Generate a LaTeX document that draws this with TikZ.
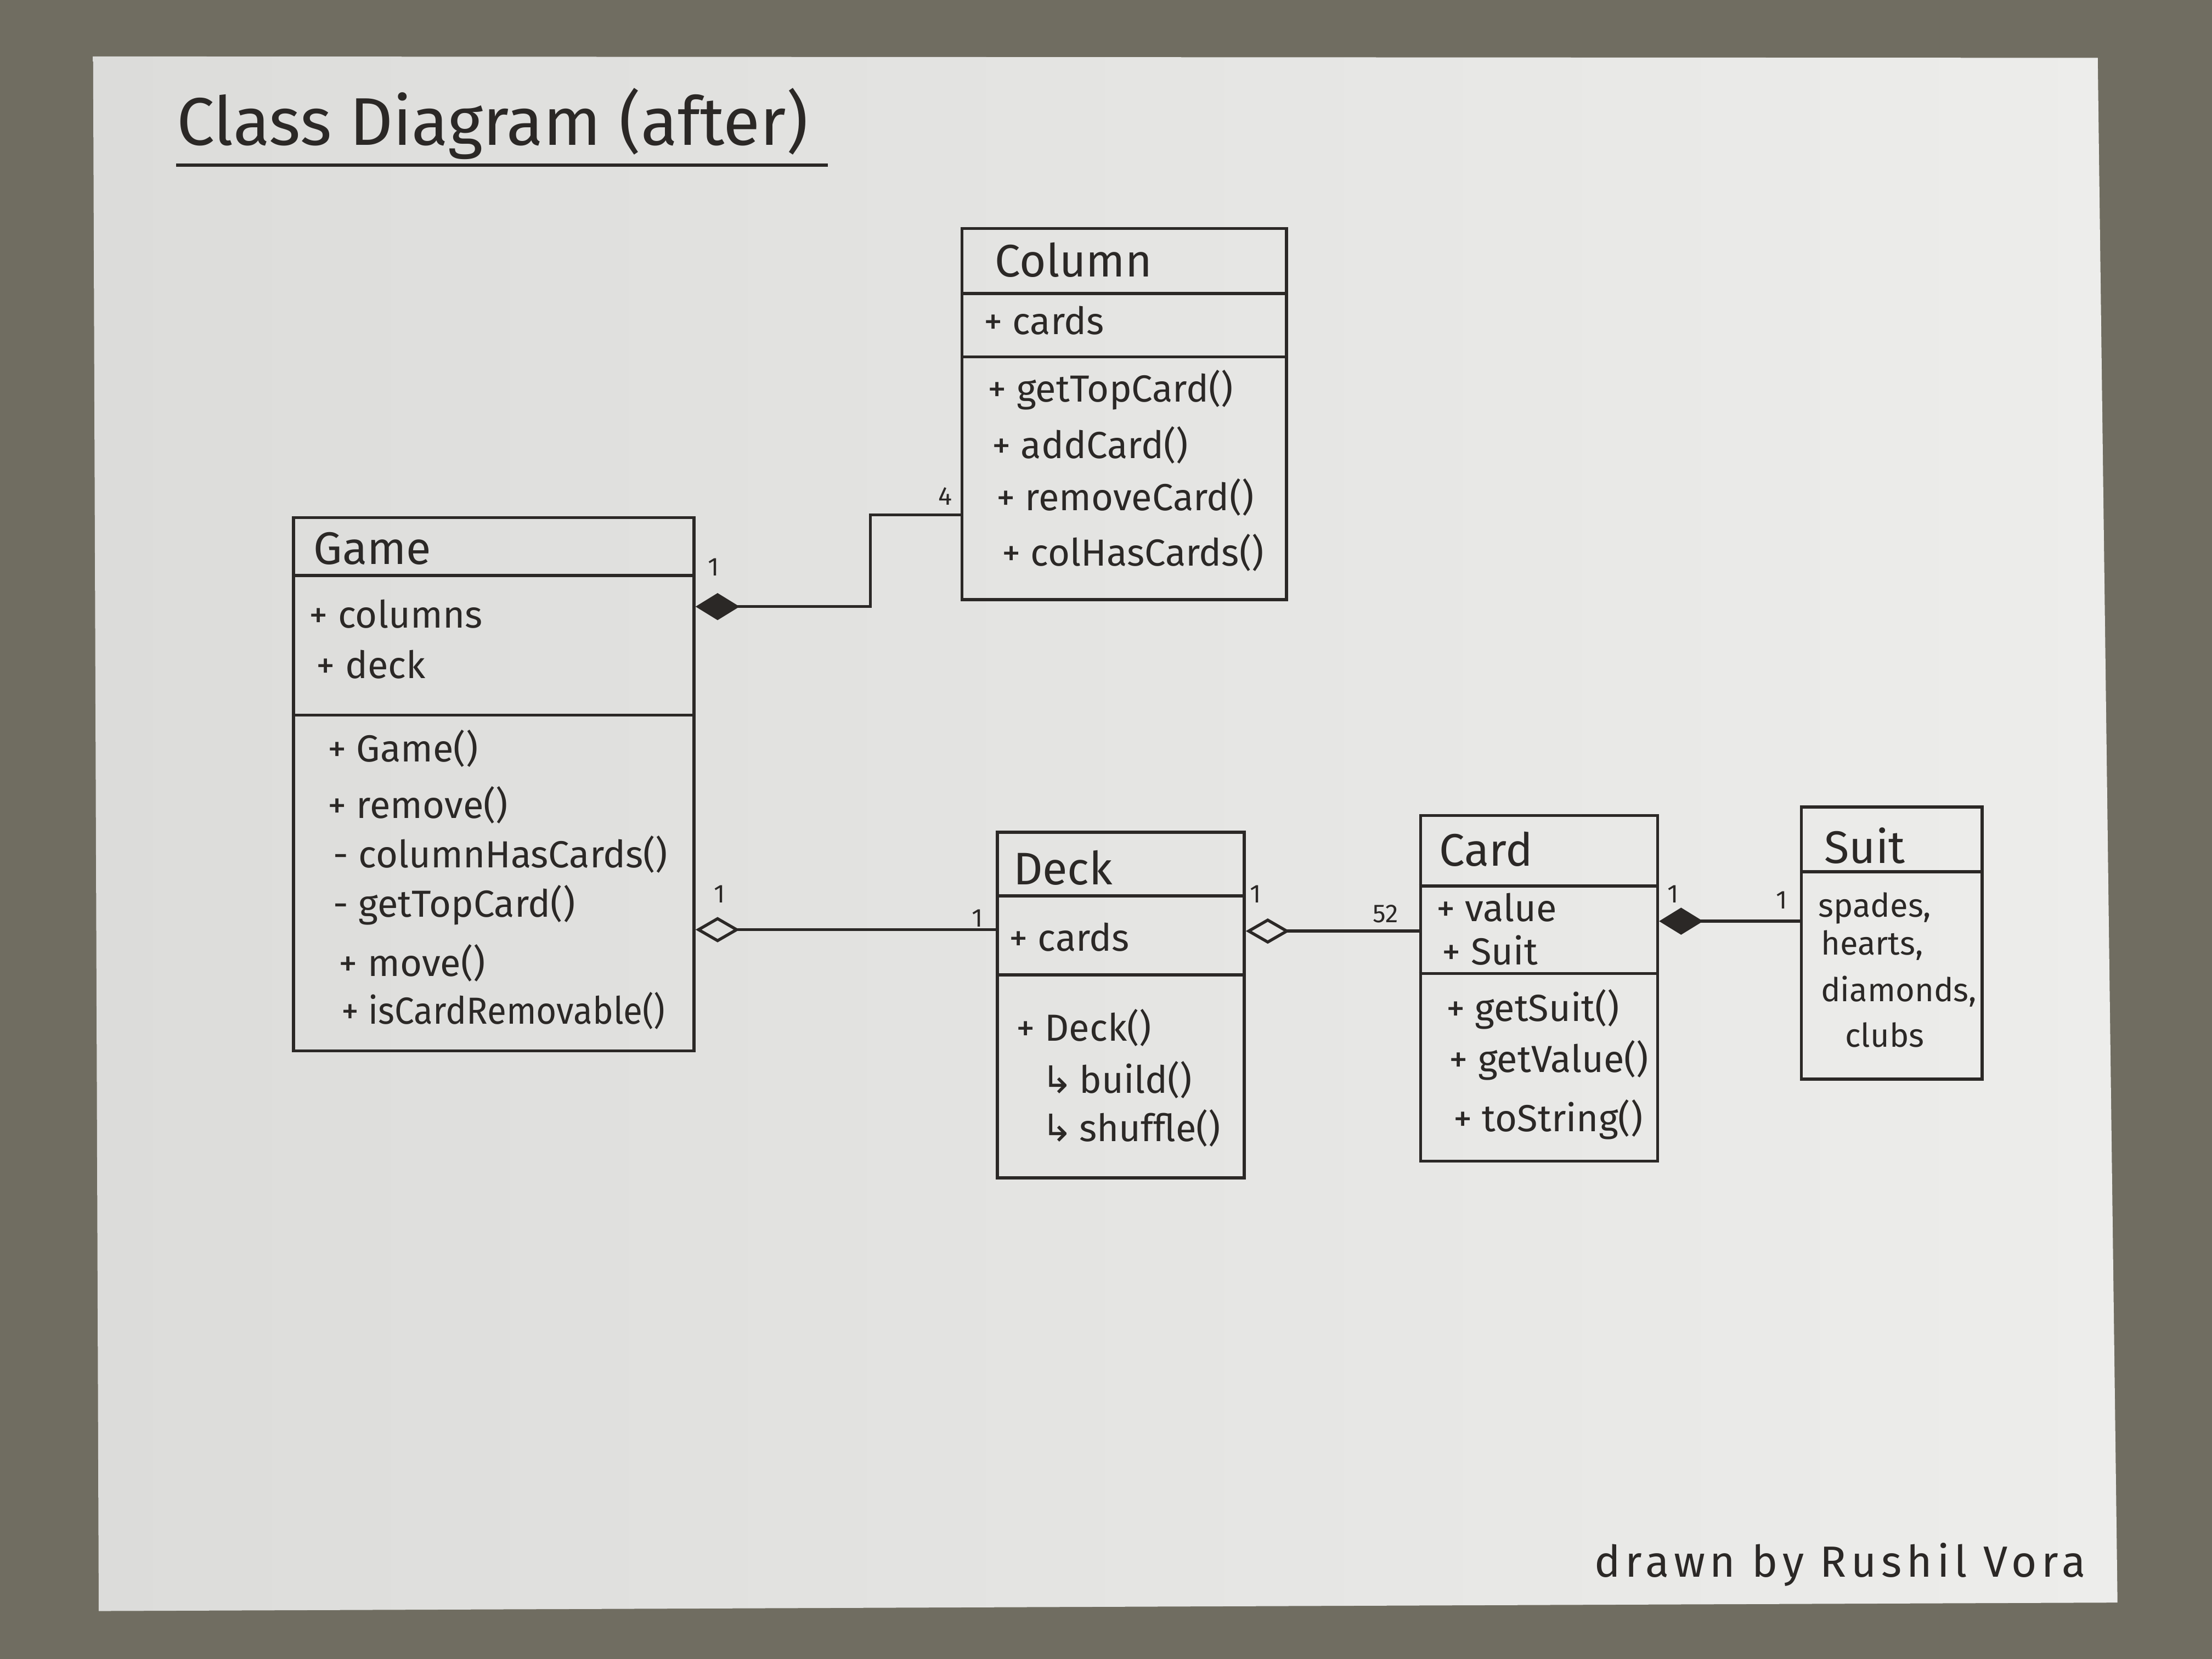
\documentclass[tikz,border=0pt]{standalone}
\usepackage{fontspec}
\setmainfont{Fira Sans}
\newfontfamily\symfont{DejaVu Sans}
\usetikzlibrary{arrows.meta,fit}

\definecolor{desk}{HTML}{706D61}
\definecolor{paperL}{HTML}{DCDCDA}
\definecolor{paperR}{HTML}{EDEDEB}
\definecolor{ink}{HTML}{2B2826}

\tikzset{
  classbox/.style={draw=ink, line width=1.5pt, rectangle, inner sep=0pt, fit={#1}},
  divider/.style={draw=ink, line width=1.5pt},
  member/.style={anchor=base west, inner sep=0pt, text=ink, font=\fontsize{19}{22}\selectfont},
  enumval/.style={anchor=base, inner sep=0pt, text=ink, font=\fontsize{16.5}{19}\selectfont},
  classname/.style={anchor=base west, inner sep=0pt, text=ink, font=\fontsize{23}{26}\selectfont},
  mult/.style={anchor=base, inner sep=0pt, text=ink, font=\fontsize{13}{15}\selectfont},
  link/.style={draw=ink, line width=1.5pt},
  composition/.style={link, {Diamond[length=0.78cm, width=0.48cm, fill=ink]}-},
  aggregation/.style={link, {Diamond[length=0.78cm, width=0.45cm, open]}-},
}

\begin{document}
\begin{tikzpicture}[x=0.025cm, y=-0.025cm]
  % desk and sheet of paper
  \useasboundingbox (0,0) rectangle (1568,1176);
  \fill[desk] (0,0) rectangle (1568,1176);
  \shade[left color=paperL, right color=paperR]
    (66,40) -- (1487,41) -- (1501,1136) -- (70,1142) -- cycle;

  % title
  \node[anchor=base west, inner sep=0pt, text=ink,
        font=\fontsize{34}{38}\selectfont] (title) at (125,103) {Class Diagram (after)};
  \draw[link] (title.south west |- 0,117) -- (587,117);

  % ---------- Column ----------
  \node[classbox={(682,162) (912,425)}] (column) {};
  \draw[divider] (column.west |- 0,208) -- (column.east |- 0,208);
  \draw[divider] (column.west |- 0,253) -- (column.east |- 0,253);
  \node[classname] (colname) at (705,196) {Column};
  \node[member] (colattr) at (697,237) {+ cards};
  \node[member] (colm1) at (700,285) {+ getTopCard()};
  \node[member] (colm2) at (703,325) {+ addCard()};
  \node[member] (colm3) at (706,362) {+ removeCard()};
  \node[member] (colm4) at (710,401) {+ colHasCards()};

  % ---------- Game ----------
  \node[classbox={(208,367) (492,745)}] (game) {};
  \draw[divider] (game.west |- 0,408) -- (game.east |- 0,408);
  \draw[divider] (game.west |- 0,507) -- (game.east |- 0,507);
  \node[classname] (gamename) at (222,400) {Game};
  \node[member] (gamea1) at (219,445) {+ columns};
  \node[member] (gamea2) at (224,481) {+ deck};
  \node[member] (gamem1) at (232,540) {+ Game()};
  \node[member] (gamem2) at (232,580) {+ remove()};
  \node[member] (gamem3) at (236,615) {- columnHasCards()};
  \node[member] (gamem4) at (236,650) {- getTopCard()};
  \node[member] (gamem5) at (240,692) {+ move()};
  \node[member, xscale=0.93] (gamem6) at (242,726) {+ isCardRemovable()};

  % ---------- Deck ----------
  \node[classbox={(707,590) (882,835)}] (deck) {};
  \draw[divider] (deck.west |- 0,635) -- (deck.east |- 0,635);
  \draw[divider] (deck.west |- 0,691) -- (deck.east |- 0,691);
  \node[classname] (deckname) at (718,627) {Deck};
  \node[member] (decka1) at (715,674) {+ cards};
  \node[member] (deckm1) at (720,738) {+ Deck()};
  \node[member] (deckm2) at (738,775) {{\symfont ↳}\,build()};
  \node[member] (deckm3) at (738,809) {{\symfont ↳}\,shuffle()};

  % ---------- Card ----------
  \node[classbox={(1007,578) (1175,823)}] (card) {};
  \draw[divider] (card.west |- 0,628) -- (card.east |- 0,628);
  \draw[divider] (card.west |- 0,690) -- (card.east |- 0,690);
  \node[classname] (cardname) at (1020,614) {Card};
  \node[member] (carda1) at (1018,653) {+ value};
  \node[member] (carda2) at (1022,684) {+ Suit};
  \node[member] (cardm1) at (1025,724) {+ getSuit()};
  \node[member] (cardm2) at (1027,760) {+ getValue()};
  \node[member] (cardm3) at (1030,802) {+ toString()};

  % ---------- Suit ----------
  \node[classbox={(1277,572) (1405,765)}] (suit) {};
  \draw[divider] (suit.west |- 0,618) -- (suit.east |- 0,618);
  \node[classname] (suitname) at (1293,612) {Suit};
  \node[enumval] (suitv1) at (1329,650) {spades,};
  \node[enumval] (suitv2) at (1327,677) {hearts,};
  \node[enumval] (suitv3) at (1346,710) {diamonds,};
  \node[enumval] (suitv4) at (1336,742) {clubs};

  % ---------- associations ----------
  \coordinate (bend) at (617,430);
  \draw[composition] (game.east |- 0,430) -- (bend) |- (column.west |- 0,365);
  \node[mult] (m1) at (506,408) {1};
  \node[mult] (m2) at (670,358) {4};

  \draw[aggregation] (game.east |- 0,659) -- (deck.west |- 0,659);
  \node[mult] (m3) at (510,640) {1};
  \node[mult] (m4) at (693,657) {1};

  \draw[aggregation] (deck.east |- 0,660) -- (card.west |- 0,660);
  \node[mult] (m5) at (890,640) {1};
  \node[mult] (m6) at (982,654) {52};

  \draw[composition] (card.east |- 0,653) -- (suit.west |- 0,653);
  \node[mult] (m7) at (1186,640) {1};
  \node[mult] (m8) at (1263,644) {1};

  % signature
  \node[anchor=base west, inner sep=0pt, text=ink,
        font=\fontsize{22}{25}\selectfont\addfontfeature{LetterSpace=11}] (sig) at (1130,1118) {drawn by Rushil Vora};
\end{tikzpicture}
\end{document}
